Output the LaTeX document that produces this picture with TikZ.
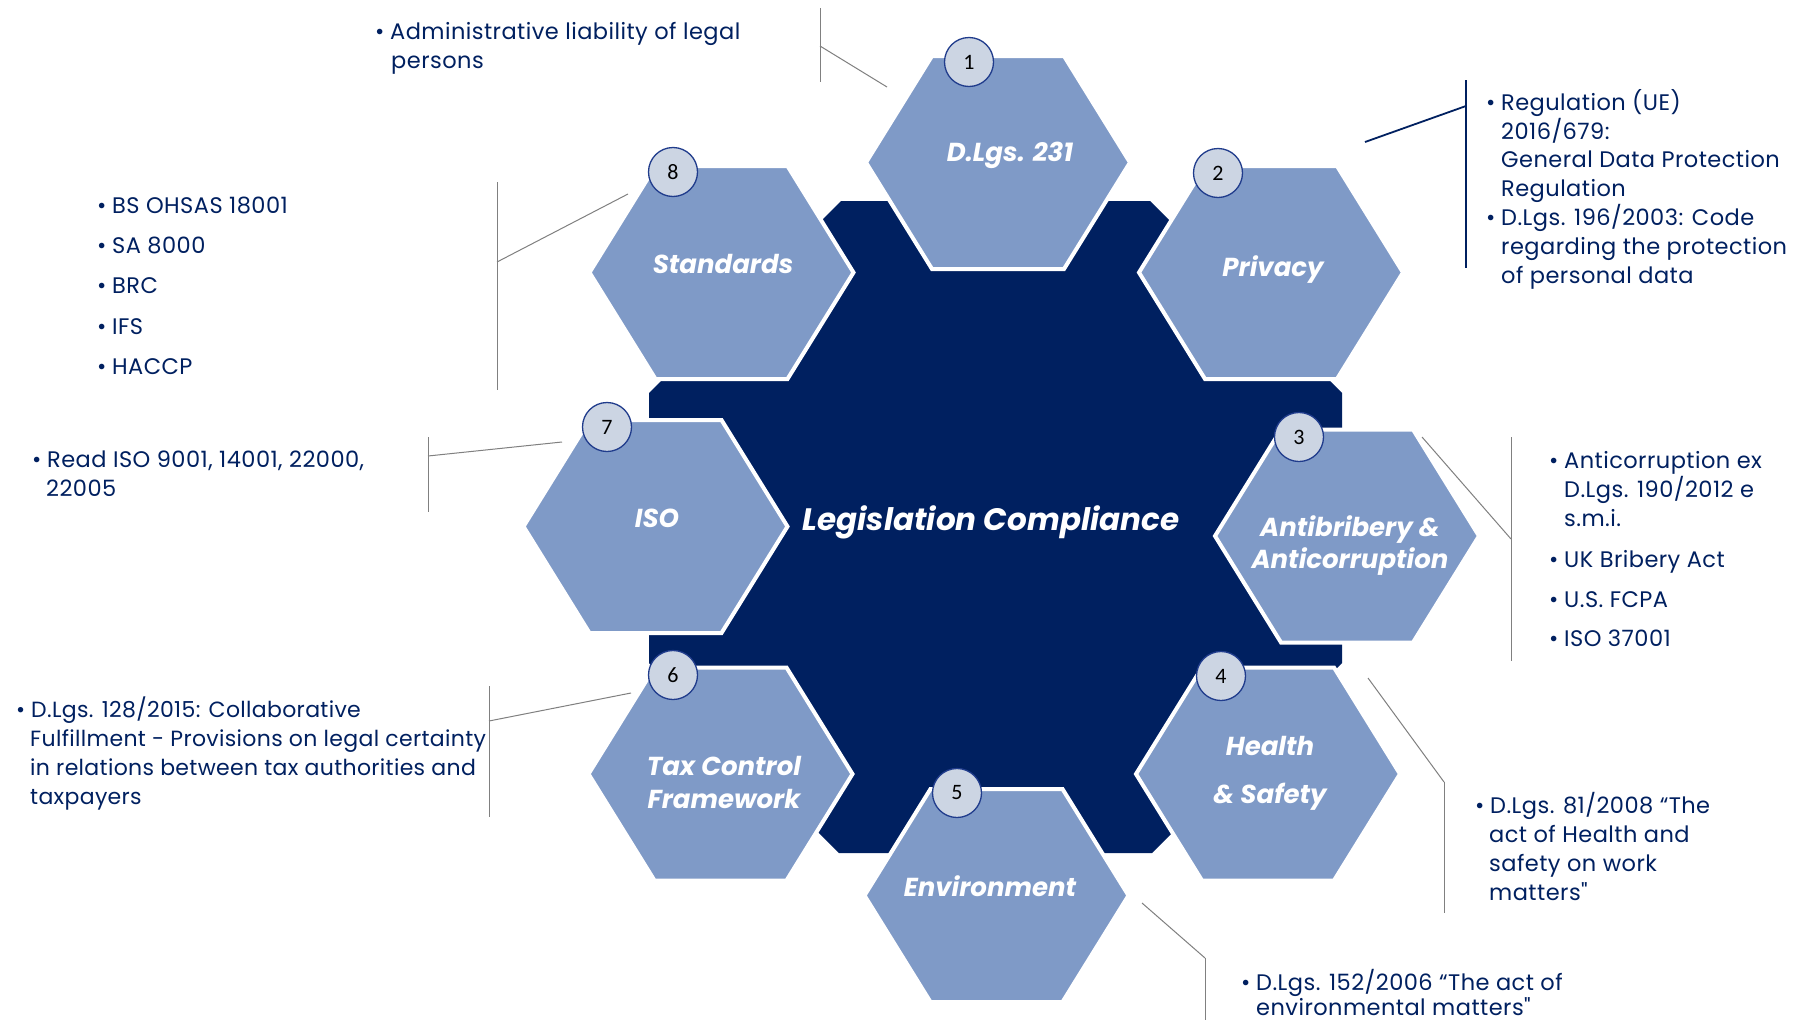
\documentclass[tikz,border=0pt]{standalone}
\usepackage{fontspec}
\setmainfont{Poppins}[Ligatures=TeXOff]
\newfontfamily\numfont{Carlito}
\usetikzlibrary{calc}
\definecolor{navy}{HTML}{002060}
\definecolor{hexblue}{HTML}{7F9AC7}
\definecolor{circfill}{HTML}{CCD5E3}
\definecolor{circline}{HTML}{203C8C}
\definecolor{leadgray}{HTML}{808080}
\newcommand\hexagonat[3]{\coordinate (#1) at (#2,#3);
  \filldraw[hexshape] ($(#1)+(-132,0)$) -- ($(#1)+(-66,-106.5)$) -- ($(#1)+(66,-106.5)$) -- ($(#1)+(132,0)$) -- ($(#1)+(66,106.5)$) -- ($(#1)+(-66,106.5)$) -- cycle;}
\newcommand\txtline[4]{\node[btext] (#1) at (#2,#3) {#4};}
\newcommand\bu{\makebox[15pt][l]{•}}
\begin{document}
\begin{tikzpicture}[x=1pt,y=-1pt,
  hexshape/.style={fill=hexblue,draw=white,line width=4pt,line join=miter},
  numcirc/.style={circle,fill=circfill,draw=circline,line width=1.3pt,minimum size=49pt,inner sep=0pt,font=\numfont\fontsize{22}{22}\selectfont,text=black},
  hexlabel/.style={text=white,font=\fontsize{26}{30}\selectfont\bfseries\itshape,anchor=base,inner sep=0pt},
  biglabel/.style={text=white,font=\fontsize{31}{36}\selectfont\bfseries\itshape,anchor=base,inner sep=0pt},
  btext/.style={text=navy,font=\fontsize{22.5}{26}\selectfont\addfontfeature{LetterSpace=2},anchor=base west,inner sep=0pt,text depth=0pt},
  narrowtext/.style={btext,font=\fontsize{22}{26}\selectfont\addfontfeature{LetterSpace=1.5}},
  leader/.style={draw=leadgray,line width=1pt},
  navylead/.style={draw=navy,line width=1.8pt}]
\useasboundingbox (0,0) rectangle (1808,1020);
\fill[white] (0,0) rectangle (1808,1020);

% central octagon
\fill[navy] (841,201) -- (1150,201) -- (1342,393) -- (1342,663) -- (1152,853) -- (839,853) -- (649,663) -- (649,393) -- cycle;

% hexagons
\hexagonat{h1}{998}{162.5}
\hexagonat{h2}{1271}{272.5}
\hexagonat{h3}{1347}{536}
\hexagonat{h4}{1268}{774}
\hexagonat{h5}{996.5}{895.5}
\hexagonat{h6}{720.5}{774}
\hexagonat{h7}{655.5}{526.5}
\hexagonat{h8}{721.5}{272.5}

% labels
\node[biglabel] (center) at (991,530) {Legislation Compliance};
\node[hexlabel] (l1) at (1010,161) {D.Lgs. 231};
\node[hexlabel] (l2) at (1273,276) {Privacy};
\node[hexlabel] (l3a) at (1350,536) {Antibribery \&};
\node[hexlabel] (l3b) at (1350,568) {Anticorruption};
\node[hexlabel] (l4a) at (1270,755) {Health};
\node[hexlabel] (l4b) at (1270,803) {\& Safety};
\node[hexlabel] (l5) at (990,896) {Environment};
\node[hexlabel] (l6a) at (724,775) {Tax Control};
\node[hexlabel] (l6b) at (724,808) {Framework};
\node[hexlabel] (l7) at (657,527) {ISO};
\node[hexlabel] (l8) at (723,273) {Standards};

% number circles
\node[numcirc] (c1) at (969,62) {1};
\node[numcirc] (c2) at (1218,173) {2};
\node[numcirc] (c3) at (1299,437) {3};
\node[numcirc] (c4) at (1221,676) {4};
\node[numcirc] (c5) at (957,793) {5};
\node[numcirc] (c6) at (673,675) {6};
\node[numcirc] (c7) at (607,427) {7};
\node[numcirc] (c8) at (673,172) {8};

% leader coordinates
\coordinate (a1) at (820,8);   \coordinate (b1) at (820,82);  \coordinate (m1) at (820,46);  \coordinate (e1) at (887,87);
\coordinate (a8) at (497,182); \coordinate (b8) at (497,390); \coordinate (m8) at (497,262); \coordinate (e8) at (628,194);
\coordinate (a7) at (428,437); \coordinate (b7) at (428,512); \coordinate (m7) at (428,456); \coordinate (e7) at (562,442);
\coordinate (a6) at (489,686); \coordinate (b6) at (489,817); \coordinate (m6) at (489,721); \coordinate (e6) at (631,693);
\coordinate (a2) at (1466,80); \coordinate (b2) at (1466,268); \coordinate (m2) at (1466,106); \coordinate (e2) at (1365,142);
\coordinate (a3) at (1511,437); \coordinate (b3) at (1511,661); \coordinate (m3) at (1511,539); \coordinate (e3) at (1422,437);
\coordinate (a4) at (1444,782); \coordinate (b4) at (1444,913); \coordinate (e4) at (1368,678);
\coordinate (a5) at (1205,958); \coordinate (b5) at (1205,1020); \coordinate (e5) at (1142,903);

\draw[leader] (a1) -- (b1); \draw[leader] (m1) -- (e1);
\draw[leader] (a8) -- (b8); \draw[leader] (m8) -- (e8);
\draw[leader] (a7) -- (b7); \draw[leader] (m7) -- (e7);
\draw[leader] (a6) -- (b6); \draw[leader] (m6) -- (e6);
\draw[navylead] (a2) -- (b2); \draw[navylead] (m2) -- (e2);
\draw[leader] (a3) -- (b3); \draw[leader] (m3) -- (e3);
\draw[leader] (a4) -- (b4); \draw[leader] (a4) -- (e4);
\draw[leader] (a5) -- (b5); \draw[leader] (a5) -- (e5);

% text blocks
\txtline{t1a}{375}{39}{\bu Administrative liability of legal}
\txtline{t1b}{391}{68}{persons}

\txtline{t8a}{97}{213}{\bu BS OHSAS 18001}
\txtline{t8b}{97}{253}{\bu SA 8000}
\txtline{t8c}{97}{293.5}{\bu BRC}
\txtline{t8d}{97}{334}{\bu IFS}
\txtline{t8e}{97}{374}{\bu HACCP}

\txtline{t7a}{32}{467}{\bu Read ISO 9001, 14001, 22000,}
\txtline{t7b}{46}{496}{22005}

\node[narrowtext] (t6a) at (16,717) {\bu D.Lgs. 128/2015: Collaborative};
\node[narrowtext] (t6b) at (30,746) {Fulfillment - Provisions on legal certainty};
\node[narrowtext] (t6c) at (30,775) {in relations between tax authorities and};
\node[narrowtext] (t6d) at (30,804) {taxpayers};

\txtline{t2a}{1486}{110}{\bu Regulation (UE)}
\txtline{t2b}{1501}{139}{2016/679:}
\txtline{t2c}{1501}{167}{General Data Protection}
\txtline{t2d}{1501}{196}{Regulation}
\txtline{t2e}{1486}{225}{\bu D.Lgs. 196/2003: Code}
\txtline{t2f}{1501}{254}{regarding the protection}
\txtline{t2g}{1501}{283}{of personal data}

\txtline{t3a}{1549}{468}{\bu Anticorruption ex}
\txtline{t3b}{1564}{497}{D.Lgs. 190/2012 e}
\txtline{t3c}{1564}{526}{s.m.i.}
\txtline{t3d}{1549}{567}{\bu UK Bribery Act}
\txtline{t3e}{1549}{607}{\bu U.S. FCPA}
\txtline{t3f}{1549}{646}{\bu ISO 37001}

\txtline{t4a}{1475}{813}{\bu D.Lgs. 81/2008 “The}
\txtline{t4b}{1489}{842}{act of Health and}
\txtline{t4c}{1489}{871}{safety on work}
\txtline{t4d}{1489}{900}{matters"}

\txtline{t5a}{1241}{990}{\bu D.Lgs. 152/2006 “The act of}
\txtline{t5b}{1256}{1015}{environmental matters"}
\end{tikzpicture}
\end{document}
